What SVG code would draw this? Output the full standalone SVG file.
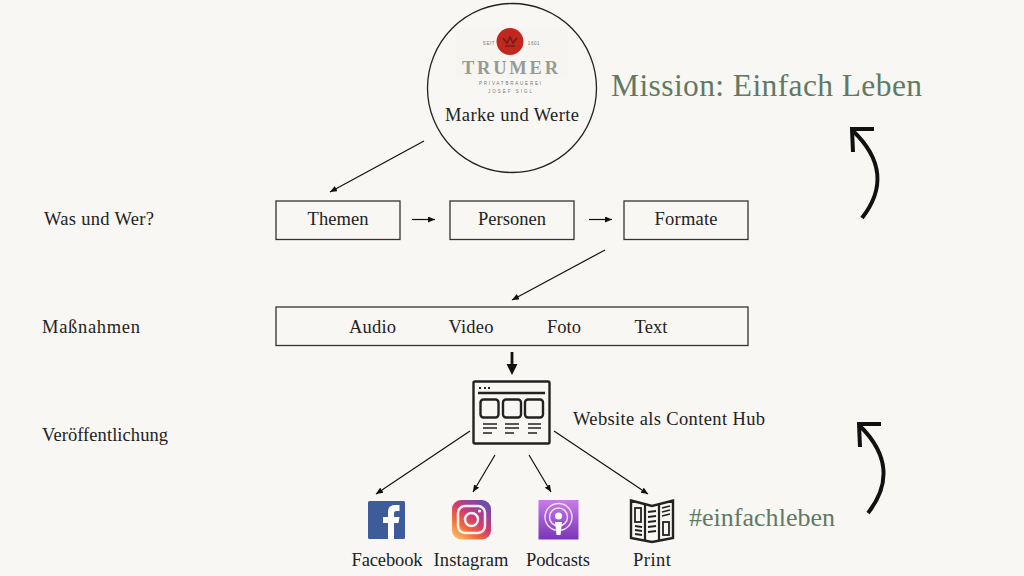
<svg xmlns="http://www.w3.org/2000/svg" width="1024" height="576" viewBox="0 0 1024 576">
<defs>
<marker id="ah" markerUnits="userSpaceOnUse" markerWidth="8" markerHeight="6" refX="7" refY="3" orient="auto"><path d="M0 0L7 3L0 6Z" fill="#111"/></marker>
<linearGradient id="ig" x1="0.1" y1="1" x2="0.9" y2="0"><stop offset="0" stop-color="#fdc468"/><stop offset="0.3" stop-color="#ee6a3c"/><stop offset="0.55" stop-color="#d03a72"/><stop offset="1" stop-color="#5a50b8"/></linearGradient>
<linearGradient id="pc" x1="0" y1="0" x2="0" y2="1"><stop offset="0" stop-color="#c77ce8"/><stop offset="1" stop-color="#7a35b8"/></linearGradient>
</defs>
<style>
text{font-family:"Liberation Serif","Times New Roman",serif;fill:#222}
.l{font-size:18.5px}
.s{fill:#777;font-family:"Liberation Sans",Arial,sans-serif;font-size:4.5px;text-anchor:middle}
.b{fill:none;stroke:#333;stroke-width:1.3}
.c{fill:none;stroke:#111;stroke-width:1.2;marker-end:url(#ah)}
.ic{fill:none;stroke:#222;stroke-width:2.4}
.th{fill:none;stroke:#111;stroke-width:4}
.tl{fill:none;stroke:#222;stroke-width:1.8}
</style>
<rect width="1024" height="576" fill="#f8f7f4"/>
<g id="connectors">
<path class="c" d="M424 141L330 192"/>
<path class="c" d="M412 219.500H435"/>
<path class="c" d="M589 219.500H612"/>
<path class="c" d="M605 250L512 300"/>
<path d="M512 352V368" fill="none" stroke="#111" stroke-width="2.800"/>
<path d="M506.500 364H517.500L512 375Z" fill="#111"/>
<path class="c" d="M470 431L376 494"/>
<path class="c" d="M495 455L473 492"/>
<path class="c" d="M529 455L551 492"/>
<path class="c" d="M554 431L648 494"/>
</g>
<g id="marke">
<circle cx="512" cy="88" r="84.500" fill="#f8f7f4" stroke="#222" stroke-width="1.300"/>
<rect x="456" y="27" width="112" height="52" fill="#f7f5f1"/>
<circle cx="510" cy="41.500" r="13.500" fill="#c0281f"/>
<path d="M503 38l4 5 3-6 3 6 4-5M505 46h10" fill="none" stroke="#6f1e16" stroke-width="1.500"/>
<text class="s" x="489" y="45" letter-spacing=".6">SEIT</text>
<text class="s" x="534" y="45" letter-spacing=".6">1601</text>
<text x="510" y="74" font-size="18.500" text-anchor="middle" textLength="96" style="fill:#9a9a94" font-weight="bold">TRUMER</text>
<text class="s" x="510" y="85" textLength="62">PRIVATBRAUEREI</text>
<text class="s" x="510" y="93" textLength="44">JOSEF SIGL</text>
<text class="l" x="512" y="121" text-anchor="middle" textLength="134">Marke und Werte</text>
</g>
<g id="mission"><text x="611" y="96" font-size="31.500" textLength="311" style="fill:#5f7a63">Mission: Einfach Leben</text></g>
<g id="label-was"><text class="l" x="44" y="225" textLength="110">Was und Wer?</text></g>
<g id="label-massnahmen"><text class="l" x="42" y="333" textLength="98">Maßnahmen</text></g>
<g id="label-veroeffentlichung"><text class="l" x="42" y="441" textLength="126">Veröffentlichung</text></g>
<g id="themen"><rect class="b" x="276" y="201" width="124" height="38.500"/><text class="l" x="338" y="225" text-anchor="middle" textLength="61">Themen</text></g>
<g id="personen"><rect class="b" x="450" y="201" width="124" height="38.500"/><text class="l" x="512" y="225" text-anchor="middle" textLength="68">Personen</text></g>
<g id="formate"><rect class="b" x="624" y="201" width="124" height="38.500"/><text class="l" x="686" y="225" text-anchor="middle" textLength="63">Formate</text></g>
<g id="massnahmen"><rect class="b" x="276" y="307" width="472" height="38.500"/>
<text class="l" x="372.500" y="333" text-anchor="middle" textLength="47">Audio</text>
<text class="l" x="471" y="333" text-anchor="middle" textLength="45">Video</text>
<text class="l" x="564" y="333" text-anchor="middle" textLength="34">Foto</text>
<text class="l" x="651" y="333" text-anchor="middle" textLength="33">Text</text></g>
<g id="website">
<rect x="473.500" y="381.500" width="76" height="62" rx="1.500" fill="none" stroke="#222" stroke-width="2.400"/>
<path d="M478 393H545" stroke="#222" stroke-width="2.600" fill="none"/>
<path d="M479 388H481M484 388H486M488 388H490" stroke="#222" stroke-width="2" fill="none"/>
<rect class="ic" x="480.500" y="399.500" width="18" height="18" rx="3"/>
<rect class="ic" x="503" y="399.500" width="18" height="18" rx="3"/>
<rect class="ic" x="525" y="399.500" width="18" height="18" rx="3"/>
<path d="M483 424H497M483 428H497M483 433H492M505 424H519M505 428H519M505 433H514M528 424H541M528 428H541M528 433H537" stroke="#222" stroke-width="1.700" fill="none"/>
<text class="l" x="573" y="425" textLength="192">Website als Content Hub</text>
</g>
<g id="hashtag"><text x="689" y="526" font-size="26" textLength="146" style="fill:#5f7a63">#einfachleben</text></g>
<g id="facebook">
<rect x="368" y="501" width="37" height="38" rx="1.500" fill="#3f5c9a"/>
<path d="M388 539V523H383V517H388V512C388 507 391 505 395 505H399.500V511H396.500C394.500 511 394 512 394 513.500V517H399.500L398.500 523H394V539Z" fill="#fff"/>
<text class="l" x="387" y="566" text-anchor="middle" textLength="71">Facebook</text>
</g>
<g id="instagram">
<rect x="452" y="500" width="39" height="39.500" rx="9" fill="url(#ig)"/>
<rect x="458" y="506" width="27" height="27" rx="7" fill="none" stroke="#fff" stroke-width="2.500" opacity=".9"/>
<circle cx="471.500" cy="519.500" r="6.500" fill="none" stroke="#fff" stroke-width="2.500" opacity=".9"/>
<circle cx="479.500" cy="511" r="1.600" fill="#fff"/>
<text class="l" x="471" y="566" text-anchor="middle" textLength="75">Instagram</text>
</g>
<g id="podcasts">
<rect x="538.500" y="500" width="40" height="39.500" fill="url(#pc)"/>
<circle cx="558.500" cy="517" r="13.500" fill="none" stroke="#f1dcf8" stroke-width="1.500"/>
<circle cx="558.500" cy="517" r="9" fill="none" stroke="#f1dcf8" stroke-width="1.500"/>
<circle cx="558.500" cy="516" r="3.500" fill="#fff"/>
<path d="M555 522H562L560.500 535H556.500Z" fill="#fff"/>
<text class="l" x="558" y="566" text-anchor="middle" textLength="64">Podcasts</text>
</g>
<g id="print">
<path d="M631 500.500L652 506L673 500.500V538L652 542L631 538Z" fill="none" stroke="#222" stroke-width="2.400"/>
<path d="M645 504V541M659 504V541" stroke="#222" stroke-width="2.200" fill="none"/>
<rect x="635" y="508" width="6" height="14" fill="none" stroke="#222" stroke-width="1.800"/>
<rect x="663" y="522" width="6" height="13" fill="none" stroke="#222" stroke-width="1.800"/>
<path class="tl" d="M635 526L642 527M635 530L642 531M635 534L642 535M648 512L656 511M648 517L656 516M648 522L656 521M648 527L656 526M648 532L656 531M662 508L670 506M662 512L670 510M662 516L670 514"/>
<text class="l" x="652" y="566" text-anchor="middle" textLength="38">Print</text>
</g>
<g id="arrow-mission">
<path class="th" d="M862 218C884 190 884 160 852 130"/>
<path class="th" d="M874 129H852L853 152"/>
</g>
<g id="arrow-hashtag">
<path class="th" d="M868 513C890 485 890 455 859 425"/>
<path class="th" d="M881 424H859L860 447"/>
</g>
</svg>
